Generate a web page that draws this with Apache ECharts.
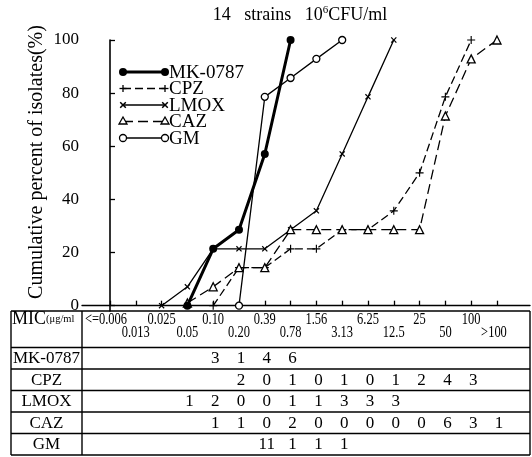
<!DOCTYPE html>
<html><head><meta charset="utf-8">
<script src="https://cdn.jsdelivr.net/npm/echarts@6/dist/echarts.min.js"></script>
<style>html,body{margin:0;padding:0;background:#fff}#c{width:532px;height:457px}</style>
</head><body><div id="c"></div>
<script>
// ---------- data ----------
const categories = ['<=0.006','0.013','0.025','0.05','0.10','0.20','0.39','0.78','1.56','3.13','6.25','12.5','25','50','100','>100'];
const seriesNames = ['MK-0787','CPZ','LMOX','CAZ','GM'];
// cumulative percent of isolates, indexed by MIC category
const mkPct   = [null,null,null,0,21.4,28.6,57.1,100,null,null,null,null,null,null,null,null];
const cpzPct  = [null,null,null,null,0,14.3,14.3,21.4,21.4,28.6,28.6,35.7,50,78.6,100,null];
const lmoxPct = [null,null,0,7.1,21.4,21.4,21.4,28.6,35.7,57.1,78.6,100,null,null,null,null];
const cazPct  = [null,null,null,1,7.1,14.3,14.3,28.6,28.6,28.6,28.6,28.6,28.6,71.4,92.9,100];
const gmPct   = [null,null,null,null,null,0,78.6,85.7,92.9,100,null,null,null,null,null,null];
// number of strains per MIC (table)
const mkCount   = [null,null,null,null,3,1,4,6,null,null,null,null,null,null,null,null];
const cpzCount  = [null,null,null,null,null,2,0,1,0,1,0,1,2,4,3,null];
const lmoxCount = [null,null,null,1,2,0,0,1,1,3,3,3,null,null,null,null];
const cazCount  = [null,null,null,null,1,1,0,2,0,0,0,0,0,6,3,1];
const gmCount   = [null,null,null,null,null,null,11,1,1,1,null,null,null,null,null,null];
const yTicks = [0,20,40,60,80,100];
const xTickIdx = categories.map((c,i)=>i);

const pctArrays = [mkPct,cpzPct,lmoxPct,cazPct,gmPct];
const countArrays = [mkCount,cpzCount,lmoxCount,cazCount,gmCount];

// ---------- styles ----------
const FONT = "'Liberation Serif','DejaVu Serif',serif";
const PLUS = 'path://M3,0h1v3h3v1h-3v3h-1v-3h-3v-1h3z';
const CROSS = 'path://M0,1L1,0L3.5,2.5L6,0L7,1L4.5,3.5L7,6L6,7L3.5,4.5L1,7L0,6L2.5,3.5Z';
const styles = [
  {symbol:'circle', size:8, width:3, dash:'solid', fill:'#000', kind:'dot'},
  {symbol:PLUS, size:8, width:1.3, dash:[8,4], fill:'#000', kind:'plus'},
  {symbol:CROSS, size:6, width:1.3, dash:'solid', fill:'#000', kind:'cross'},
  {symbol:'triangle', size:8, width:1.3, dash:[10,5], fill:'#fff', kind:'tri'},
  {symbol:'circle', size:7, width:1.3, dash:'solid', fill:'#fff', kind:'ring'}
];

const series = seriesNames.map((name,k)=>({
  name, type:'line',
  data: pctArrays[k].map((v,i)=> v==null?null:[i,v]).filter(d=>d),
  symbol: styles[k].symbol, symbolSize: styles[k].size,
  showAllSymbol:true,
  z: k===0?5:3,
  lineStyle:{color:'#000', width:styles[k].width, type:styles[k].dash},
  itemStyle:{color:styles[k].fill, borderColor:'#000', borderWidth: (styles[k].kind==='tri'||styles[k].kind==='ring')?1.3:0},
  emphasis:{disabled:true},
  animation:false
}));

const option = {
  animation:false,
  backgroundColor:'#fff',
  grid:{left:82, right:2, top:40, bottom:146, containLabel:false},
  xAxis:{type:'value', min:-1.085, max:16.28,
    axisLine:{show:true, lineStyle:{color:'#000', width:1.4}},
    axisTick:{show:true, inside:true, length:5, customValues:xTickIdx, lineStyle:{color:'#000', width:1.3}},
    axisLabel:{show:false}, splitLine:{show:false}},
  yAxis:{type:'value', min:-2, max:100,
    axisLine:{show:true, lineStyle:{color:'#000', width:1.6}},
    axisTick:{show:true, inside:true, length:5, customValues:yTicks, lineStyle:{color:'#000', width:1.3}},
    axisLabel:{show:true, customValues:yTicks, margin:3, color:'#000', fontFamily:FONT, fontSize:17},
    splitLine:{show:false}},
  series
};

const chart = echarts.init(document.getElementById('c'));
chart.setOption(option);

// ---------- graphic: title, y name, legend, table ----------
const px = i => chart.convertToPixel({xAxisIndex:0}, i);
const g = [];
const black = '#000';
function line(x1,y1,x2,y2,w,dash){ g.push({type:'line', shape:{x1,y1,x2,y2}, style:{stroke:black, lineWidth:w||1.2, lineDash:dash||null}, silent:true}); }
function text(x,y,t,size,align,extra){ g.push(Object.assign({type:'text', x, y, style:{text:t, fontFamily:FONT, fontSize:size, fill:black, align:align||'center', verticalAlign:'middle'}, silent:true}, extra||{})); }

// title
g.push({type:'text', x:300, y:15, silent:true, style:{text:'{a|14   strains   10}{s|6}{a|CFU/ml}', align:'center', verticalAlign:'middle',
  rich:{a:{fontFamily:FONT, fontSize:18, fill:black, lineHeight:20}, s:{fontFamily:FONT, fontSize:11, fill:black, verticalAlign:'top', lineHeight:20}}}});
// y name
text(37, 162, 'Cumulative percent of isolates(%)', 20, 'center', {rotation:Math.PI/2});

// legend
function sym(kind,x,y){
  if(kind==='dot') g.push({type:'circle', shape:{cx:x,cy:y,r:4}, style:{fill:black}, silent:true});
  else if(kind==='ring') g.push({type:'circle', shape:{cx:x,cy:y,r:3.5}, style:{fill:'#fff', stroke:black, lineWidth:1.3}, silent:true});
  else if(kind==='plus'){ line(x-3.5,y,x+3.5,y,1.3); line(x,y-3.5,x,y+3.5,1.3); }
  else if(kind==='cross'){ line(x-2.8,y-2.8,x+2.8,y+2.8,1.5); line(x-2.8,y+2.8,x+2.8,y-2.8,1.5); }
  else if(kind==='tri') g.push({type:'polygon', shape:{points:[[x,y-4.5],[x-4,y+2.5],[x+4,y+2.5]]}, style:{fill:'#fff', stroke:black, lineWidth:1.3}, silent:true});
}
seriesNames.forEach((name,k)=>{
  const y = 72 + k*16.5, x1 = 123, x2 = 165;
  line(x1,y,x2,y,styles[k].width, Array.isArray(styles[k].dash)?styles[k].dash:null);
  sym(styles[k].kind,x1,y); sym(styles[k].kind,x2,y);
  text(169, y+1, name, 19, 'left');
});

// table
const L=11, R=530, D=82, T=311, HB=347.5, RH=21.5;
const bottom = HB + RH*seriesNames.length;
line(L,T,R,T,1.4); line(L,T,L,bottom,1.4); line(R,T,R,bottom,1.4); line(D,T,D,bottom,1.4);
line(L,HB,R,HB,1.3);
for(let k=1;k<=seriesNames.length;k++) line(L,HB+RH*k,R,HB+RH*k,1.3);
// header
g.push({type:'text', x:L+1, y:319, silent:true, style:{text:'{a|MIC}{b|(μg/ml}', align:'left', verticalAlign:'middle',
  rich:{a:{fontFamily:FONT, fontSize:18, fill:black}, b:{fontFamily:FONT, fontSize:10.5, fill:black}}}});
categories.forEach((c,i)=>{
  let x = px(i);
  if(i===0) x += -4;
  if(i===categories.length-1) x += -3;
  text(x, (i%2===0)?320:333, c, 16, 'center', {scaleX:0.78, originX:0, originY:0});
});
// rows
seriesNames.forEach((name,k)=>{
  const yc = HB + RH*k + RH/2 + 0.5;
  text((L+D)/2, yc, name, 17, 'center');
  countArrays[k].forEach((v,i)=>{ if(v!=null) text(px(i)+2, yc, String(v), 17, 'center'); });
});

chart.setOption({graphic:{elements:g}});
</script>
</body></html>
